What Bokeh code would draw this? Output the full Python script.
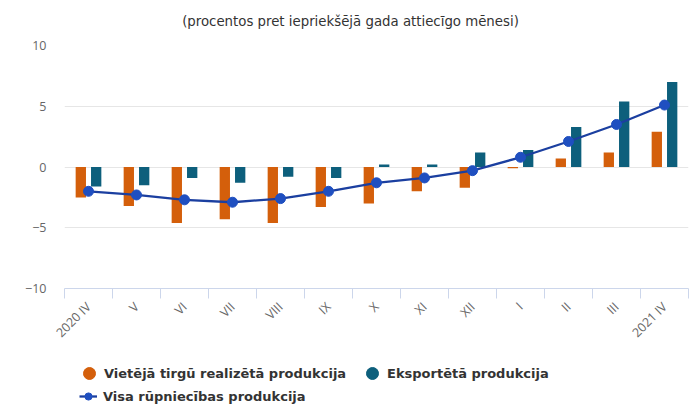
from math import pi
from bokeh.plotting import figure
from bokeh.layouts import column
from bokeh.models import (ColumnDataSource, FixedTicker, Legend, LegendItem, Range1d, Label)
from bokeh.embed import file_html
from bokeh.resources import INLINE

categories = ["2020 IV", "V", "VI", "VII", "VIII", "IX", "X", "XI", "XII", "I", "II", "III", "2021 IV"]
domestic = [-2.5, -3.2, -4.6, -4.3, -4.6, -3.3, -3.0, -2.0, -1.7, -0.1, 0.7, 1.2, 2.9]
export = [-1.6, -1.5, -0.9, -1.3, -0.8, -0.9, 0.2, 0.2, 1.2, 1.4, 3.3, 5.4, 7.0]
total = [-2.0, -2.3, -2.7, -2.9, -2.6, -2.0, -1.3, -0.9, -0.3, 0.8, 2.1, 3.5, 5.1]
y_ticks = [-10, -5, 0, 5, 10]

title_text = "(procentos pret iepriekšējā gada attiecīgo mēnesi)"
name_dom = "Vietējā tirgū realizētā produkcija"
name_exp = "Eksportētā produkcija"
name_tot = "Visa rūpniecības produkcija"

C_DOM = "#D45F0B"
C_EXP = "#0D5F7C"
C_LINE = "#1B3FA0"
C_MARK = "#1F4FC0"

BL, BR = 64, 12  # shared left/right borders

idx = list(range(len(categories)))
src = ColumnDataSource(dict(
    x=idx,
    xd=[i - 0.16 for i in idx],
    xe=[i + 0.16 for i in idx],
    dom=domestic, exp=export, tot=total,
))


def strip(h):
    f = figure(width=700, height=h, output_backend="svg", toolbar_location=None,
               x_range=Range1d(BL, 700 - BR), y_range=Range1d(0, h),
               min_border_left=BL, min_border_right=BR, min_border_top=0, min_border_bottom=0)
    f.axis.visible = False
    f.grid.visible = False
    f.outline_line_color = None
    f.background_fill_color = "white"
    f.border_fill_color = "white"
    return f


# title strip
t = strip(30)
t.add_layout(Label(x=350, y=10.5, text=title_text, text_align="center", text_baseline="middle",
                   text_font="DejaVu Sans Condensed", text_font_size="14.8px",
                   text_color="#333333"))

# main chart
p = figure(width=700, height=325, output_backend="svg", toolbar_location=None,
           x_range=Range1d(-0.5, len(categories) - 0.5), y_range=Range1d(-10, 10),
           min_border_left=BL, min_border_right=BR, min_border_top=15, min_border_bottom=67)
p.outline_line_color = None
p.background_fill_color = "white"
p.border_fill_color = "white"

p.vbar(x="xd", top="dom", bottom=0, width=0.215, source=src, color=C_DOM, line_color=None)
p.vbar(x="xe", top="exp", bottom=0, width=0.215, source=src, color=C_EXP, line_color=None)
p.line(x="x", y="tot", source=src, line_color=C_LINE, line_width=2.3)
p.scatter(x="x", y="tot", source=src, size=10, fill_color=C_MARK, line_color=C_MARK)

xa = p.xaxis[0]
xa.ticker = FixedTicker(ticks=idx, minor_ticks=[i - 0.5 for i in range(len(categories) + 1)])
xa.major_label_overrides = {i: c for i, c in enumerate(categories)}
xa.major_label_orientation = pi / 4
xa.axis_line_color = "#ccd6eb"
xa.major_tick_line_color = None
xa.major_tick_out = 0
xa.major_tick_in = 0
xa.minor_tick_line_color = "#ccd6eb"
xa.minor_tick_out = 10
xa.minor_tick_in = 0
xa.major_label_standoff = 6
xa.major_label_text_font = "Open Sans"
xa.major_label_text_font_size = "12.5px"
xa.major_label_text_color = "#666666"

ya = p.yaxis[0]
ya.ticker = FixedTicker(ticks=y_ticks)
ya.major_label_overrides = {t_: (str(t_).replace("-", "\u2212")) for t_ in y_ticks}
ya.axis_line_color = None
ya.major_tick_line_color = None
ya.minor_tick_line_color = None
ya.major_tick_out = 0
ya.major_tick_in = 0
ya.major_label_standoff = 18
ya.major_label_text_font = "Open Sans"
ya.major_label_text_font_size = "12.5px"
ya.major_label_text_color = "#666666"

p.xgrid.grid_line_color = None
p.ygrid.grid_line_color = "#e6e6e6"
p.ygrid.ticker = FixedTicker(ticks=y_ticks)

# legend strip
q = strip(55)
nan = float("nan")
ld = q.scatter(x=[nan], y=[nan], fill_color=C_DOM, line_color=C_DOM)
le = q.scatter(x=[nan], y=[nan], fill_color=C_EXP, line_color=C_EXP)
ll = q.line(x=[nan, nan], y=[nan, nan], line_color=C_LINE, line_width=2.3)
lm = q.scatter(x=[nan], y=[nan], fill_color=C_MARK, line_color=C_MARK)


def make_legend(items, loc, gw, gh, standoff):
    lg = Legend(items=items, location=loc, orientation="horizontal",
                padding=0, margin=0, spacing=0,
                glyph_width=gw, glyph_height=gh, label_height=20,
                label_standoff=standoff,
                border_line_color=None, background_fill_alpha=0,
                label_text_font="DejaVu Sans", label_text_font_size="13px",
                label_text_font_style="bold", label_text_color="#333333")
    q.add_layout(lg, "center")


make_legend([LegendItem(label=name_dom, renderers=[ld])], (74 - BL, 22), 30, 30, 0)
make_legend([LegendItem(label=name_exp, renderers=[le])], (357 - BL, 22), 30, 30, 0)
make_legend([LegendItem(label=name_tot, renderers=[ll, lm])], (79 - BL, 4), 18, 20, 6)

layout = column(t, p, q, spacing=0)
open("out.html", "w").write(file_html(layout, INLINE))
